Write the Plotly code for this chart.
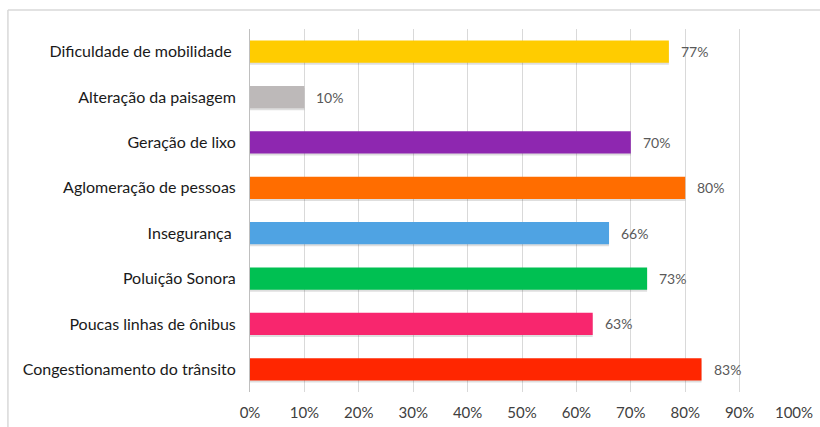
import plotly.graph_objects as go

# Problems reported, listed top to bottom as shown
categories = [
    "Dificuldade de mobilidade\u00a0",
    "Alteração da paisagem",
    "Geração de lixo",
    "Aglomeração de pessoas",
    "Insegurança\u00a0",
    "Poluição Sonora",
    "Poucas linhas de ônibus",
    "Congestionamento do trânsito",
]
values = [77, 10, 70, 80, 66, 73, 63, 83]
colors = ["#FFCC00", "#BDB9B9", "#8E27B0", "#FF6D00", "#4FA3E3", "#00C052", "#F8266E", "#FF2600"]
tick_vals = list(range(0, 101, 10))
tick_text = [f"{v}%" for v in tick_vals]

# plot bottom-up so the first category sits at the top
cats = categories[::-1]
vals = values[::-1]
cols = colors[::-1]

fig = go.Figure()

# soft drop shadow under each bar
fig.add_trace(go.Bar(
    y=cats, x=vals, orientation="h", width=0.49, offset=-0.29,
    marker=dict(color="rgba(0,0,0,0.13)", line=dict(width=0)),
    hoverinfo="skip", showlegend=False,
))
fig.add_trace(go.Bar(
    y=cats, x=vals, orientation="h", width=0.49, offset=-0.245,
    marker=dict(color=cols, line=dict(width=0)),
    showlegend=False,
))

for c, v in zip(cats, vals):
    fig.add_annotation(
        x=v, y=c, text=f"{v}%", showarrow=False, xanchor="left", xshift=10,
        font=dict(family="Lato, sans-serif", size=14, color="#595959"),
    )

fig.update_layout(
    width=820, height=427,
    margin=dict(l=250, r=26, t=29, b=35, autoexpand=False),
    paper_bgcolor="white", plot_bgcolor="white",
    barmode="overlay",
    font=dict(family="Lato, sans-serif"),
    xaxis=dict(
        range=[0, 100], tickvals=tick_vals, ticktext=tick_text,
        showgrid=True, gridcolor="#D9D9D9", gridwidth=1, zeroline=False,
        showline=False, ticks="", ticklabelstandoff=10,
        automargin=False, ticklabeloverflow="allow",
        tickfont=dict(family="Lato, sans-serif", size=15, color="#404040"),
        fixedrange=True,
    ),
    yaxis=dict(
        categoryorder="array", categoryarray=cats,
        range=[-0.5, 7.5],
        showgrid=False, zeroline=False, showline=True,
        linecolor="#BFBFBF", linewidth=1, ticks="", ticklabelstandoff=10,
        automargin=False,
        tickfont=dict(family="Lato, sans-serif", size=16, color="#1A1A1A"),
        fixedrange=True,
    ),
    shapes=[
        # outer frame (top and left edges)
        dict(type="line", xref="paper", yref="paper", x0=-0.445, x1=1.06,
             y0=1.0523, y1=1.0523, line=dict(color="#D9D9D9", width=1.5)),
        dict(type="line", xref="paper", yref="paper", x0=-0.445, x1=-0.445,
             y0=1.0523, y1=-0.11, line=dict(color="#D9D9D9", width=1.5)),
    ],
)

fig.write_html("out.html")
